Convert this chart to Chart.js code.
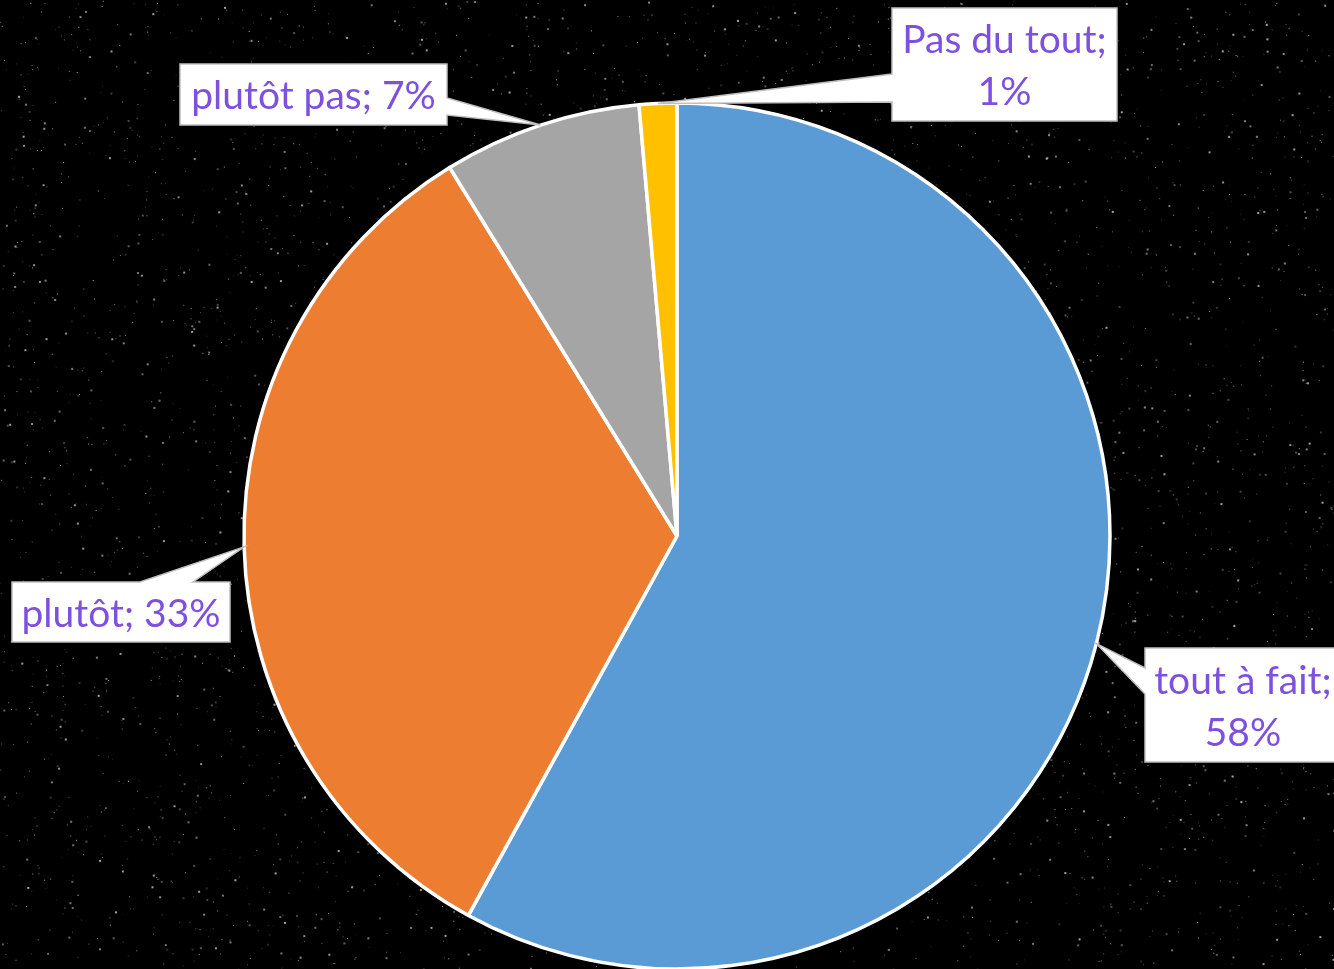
<!DOCTYPE html>
<html>
<head>
<meta charset="utf-8">
<script src="https://cdn.jsdelivr.net/npm/chart.js@4"></script>
<style>
  html, body { margin: 0; padding: 0; background: #000; }
  #wrap { width: 1334px; height: 969px; }
</style>
</head>
<body>
<div id="wrap"><canvas id="pie" width="1334" height="969"></canvas></div>
<script>
const categories = ['tout à fait', 'plutôt', 'plutôt pas', 'Pas du tout'];
const shares = [58.0, 33.2, 7.4, 1.4];
const sliceColors = ['#5B9BD5', '#ED7D31', '#A5A5A5', '#FFC000'];

// callout boxes: [x, y, w, h], which side the pointer leaves from, and the pointer base along that side
const callouts = [
  { box: [1145, 648, 196, 114], side: 'left', base: [668, 694], twoLines: true },
  { box: [12, 582, 218, 60], side: 'top', base: [140, 193], twoLines: false },
  { box: [180, 64, 267, 61], side: 'right', base: [98, 115], twoLines: false },
  { box: [892, 8, 225, 113], side: 'left', base: [74, 102], twoLines: true }
];

const labelFont = '39px Lato, "Open Sans", sans-serif';
const labelColor = '#7E50E0';

// starry backdrop, drawn with a fixed seed so it is the same every run
const starfield = {
  id: 'starfield',
  beforeDraw(chart) {
    const ctx = chart.ctx;
    ctx.save();
    ctx.fillStyle = '#000';
    ctx.fillRect(0, 0, chart.width, chart.height);
    let seed = 12345;
    const rnd = () => { seed = (seed * 1103515245 + 12345) % 2147483648; return seed / 2147483648; };
    for (let i = 0; i < 5200; i++) {
      const x = rnd() * chart.width;
      const y = rnd() * chart.height;
      const a = 0.15 + rnd() * 0.6;
      const s = rnd() < 0.25 ? 2 : 1;
      ctx.fillStyle = `rgba(220,220,220,${a.toFixed(2)})`;
      ctx.fillRect(x, y, s, s);
    }
    ctx.restore();
  }
};

// Excel-like callout labels pointing at the middle of each slice
const calloutLabels = {
  id: 'calloutLabels',
  afterDraw(chart) {
    const ctx = chart.ctx;
    const meta = chart.getDatasetMeta(0);
    const total = shares.reduce((a, b) => a + b, 0);
    meta.data.forEach((arc, i) => {
      const c = callouts[i];
      const [x, y, w, h] = c.box;
      const mid = (arc.startAngle + arc.endAngle) / 2;
      const tx = arc.x + Math.cos(mid) * arc.outerRadius;
      const ty = arc.y + Math.sin(mid) * arc.outerRadius;

      ctx.save();
      ctx.beginPath();
      if (c.side === 'left') {
        ctx.moveTo(x, y);
        ctx.lineTo(x + w, y);
        ctx.lineTo(x + w, y + h);
        ctx.lineTo(x, y + h);
        ctx.lineTo(x, c.base[1]);
        ctx.lineTo(tx, ty);
        ctx.lineTo(x, c.base[0]);
      } else if (c.side === 'right') {
        ctx.moveTo(x, y);
        ctx.lineTo(x + w, y);
        ctx.lineTo(x + w, c.base[0]);
        ctx.lineTo(tx, ty);
        ctx.lineTo(x + w, c.base[1]);
        ctx.lineTo(x + w, y + h);
        ctx.lineTo(x, y + h);
      } else {
        ctx.moveTo(x, y);
        ctx.lineTo(c.base[0], y);
        ctx.lineTo(tx, ty);
        ctx.lineTo(c.base[1], y);
        ctx.lineTo(x + w, y);
        ctx.lineTo(x + w, y + h);
        ctx.lineTo(x, y + h);
      }
      ctx.closePath();
      ctx.fillStyle = '#FFFFFF';
      ctx.fill();
      ctx.strokeStyle = '#BFBFBF';
      ctx.lineWidth = 1.5;
      ctx.stroke();

      const pct = Math.round(shares[i] / total * 100) + '%';
      ctx.fillStyle = labelColor;
      ctx.font = labelFont;
      ctx.textAlign = 'center';
      ctx.textBaseline = 'middle';
      const cx = x + w / 2;
      if (c.twoLines) {
        ctx.fillText(categories[i] + ';', cx, y + h / 2 - 24);
        ctx.fillText(pct, cx, y + h / 2 + 28);
      } else {
        ctx.fillText(categories[i] + '; ' + pct, cx, y + h / 2 + 2);
      }
      ctx.restore();
    });
  }
};

new Chart(document.getElementById('pie'), {
  type: 'pie',
  data: {
    labels: categories,
    datasets: [{
      data: shares,
      backgroundColor: sliceColors,
      borderColor: '#FFFFFF',
      borderWidth: 3.5,
      hoverOffset: 0
    }]
  },
  options: {
    responsive: false,
    animation: false,
    radius: 433,
    layout: { padding: { left: 20, right: 0, top: 103, bottom: 0 } },
    plugins: {
      legend: { display: false },
      tooltip: { enabled: false }
    }
  },
  plugins: [starfield, calloutLabels]
});
</script>
</body>
</html>
